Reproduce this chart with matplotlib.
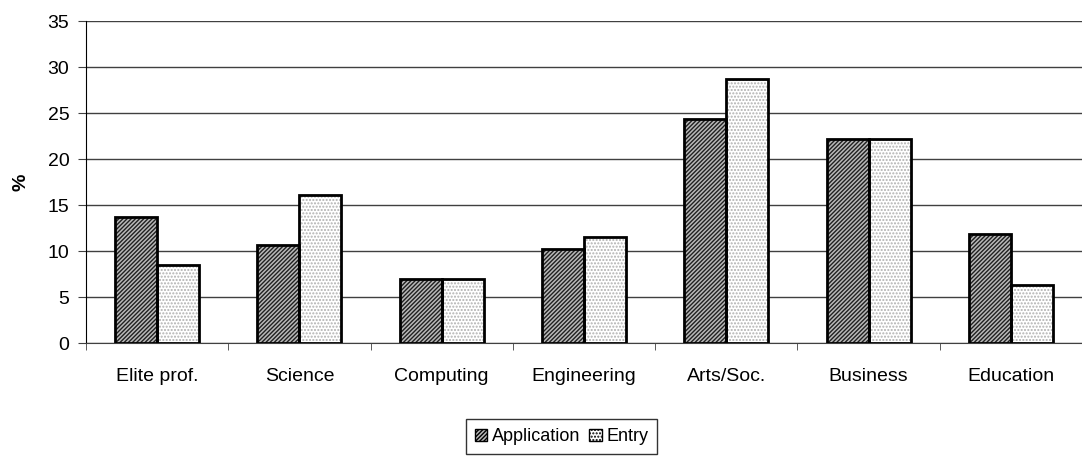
import numpy as np
import matplotlib
matplotlib.use('Agg')
import matplotlib.pyplot as plt
from matplotlib.patches import Patch

plt.rcParams['font.family'] = ['Liberation Sans', 'DejaVu Sans']
plt.rcParams['hatch.linewidth'] = 1.0

categories = ['Elite prof.', 'Science', 'Computing', 'Engineering', 'Arts/Soc.', 'Business', 'Education']
application = [13.7, 10.6, 7.0, 10.2, 24.3, 22.2, 11.9]
entry = [8.5, 16.1, 7.0, 11.5, 28.7, 22.2, 6.3]

fig = plt.figure(figsize=(10.82, 4.59), dpi=100)
ax = fig.add_axes([0.0795, 0.2527, 0.9205, 0.7015])

x = np.arange(len(categories))
w = 0.295

# hatch fill first (grey pattern), then black outline on top
ax.bar(x - w / 2, application, w, color='#b8b8b8', edgecolor='#202020', hatch='////////', linewidth=0, zorder=3)
ax.bar(x - w / 2, application, w, fill=False, edgecolor='black', linewidth=2, zorder=4)
ax.bar(x + w / 2, entry, w, color='white', edgecolor='#b0b0b0', hatch='.....', linewidth=0, zorder=3)
ax.bar(x + w / 2, entry, w, fill=False, edgecolor='black', linewidth=2, zorder=4)

ax.set_xlim(-0.5, len(categories) - 0.5)
ax.set_ylim(0, 35)
ax.set_yticks(range(0, 36, 5))
ax.yaxis.grid(True, color='#404040', linewidth=1, zorder=0)
ax.set_axisbelow(True)

ax.set_xticks(x)
ax.set_xticklabels(categories, fontsize=14)
ax.tick_params(axis='x', which='major', length=0, pad=18)
ax.set_xticks(np.arange(-0.5, len(categories) - 0.4, 1), minor=True)
ax.tick_params(axis='x', which='minor', length=5, color='#404040', direction='out')
ax.tick_params(axis='y', labelsize=14, length=6, color='#404040', pad=6)

for s in ['top', 'right']:
    ax.spines[s].set_visible(False)
ax.spines['left'].set_color('black')
ax.spines['bottom'].set_color('#404040')

ax.set_ylabel('%', fontsize=14, fontweight='bold', labelpad=13)

handles = [Patch(facecolor='#b8b8b8', edgecolor='black', hatch='////////', linewidth=1),
           Patch(facecolor='white', edgecolor='black', hatch='.....', linewidth=1)]
fig.legend(handles, ['Application', 'Entry'], loc='center', bbox_to_anchor=(0.519, 0.048),
           ncol=2, fontsize=13, frameon=True, fancybox=False, edgecolor='black',
           handlelength=0.7, handleheight=0.7, handletextpad=0.25, columnspacing=0.5,
           borderpad=0.5, borderaxespad=0)

fig.savefig('out.png', dpi=100)
